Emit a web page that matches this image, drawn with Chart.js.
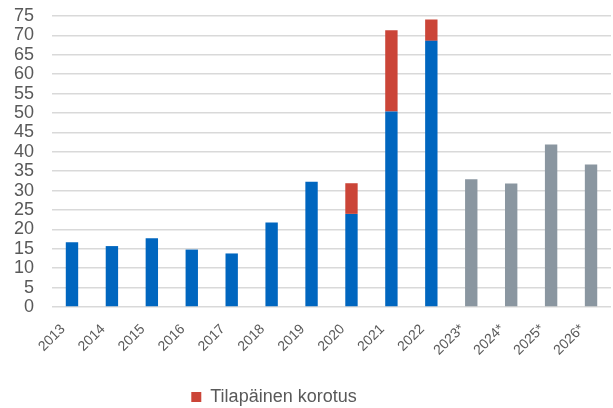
<!DOCTYPE html>
<html>
<head>
<meta charset="utf-8">
<script src="https://cdn.jsdelivr.net/npm/chart.js@4/dist/chart.umd.min.js"></script>
<style>
  html, body { margin: 0; padding: 0; background: #fff; }
  #wrap { width: 613px; height: 408px; }
</style>
</head>
<body>
<div id="wrap"><canvas id="chart"></canvas></div>
<script>
// years, * = forecast
const years = ['2013', '2014', '2015', '2016', '2017', '2018', '2019', '2020', '2021', '2022', '2023*', '2024*', '2025*', '2026*'];
const baseValues = [16.7, 15.7, 17.7, 14.8, 13.8, 21.8, 32.3, 24.0, 50.4, 68.6, 32.9, 31.8, 41.9, 36.7];
const tempRaise = [0, 0, 0, 0, 0, 0, 0, 7.9, 20.9, 5.5, 0, 0, 0, 0];
const tempLabel = 'Tilapäinen korotus';
const yTicks = [0, 5, 10, 15, 20, 25, 30, 35, 40, 45, 50, 55, 60, 65, 70, 75];

const blue = '#0066bf';
const grey = '#8a96a0';
const red = '#cb4538';
const textCol = '#595959';
const fontFam = 'Liberation Sans, Arial, sans-serif';

const baseColors = years.map(y => y.includes('*') ? grey : blue);

// legend sits a bit left of centre in the original
const legendShift = {
  id: 'legendShift',
  afterLayout(chart) {
    chart.legend.left -= 37;
    chart.legend.right -= 37;
  }
};

new Chart(document.getElementById('chart'), {
  type: 'bar',
  data: {
    labels: years,
    datasets: [
      { label: 'base', data: baseValues, backgroundColor: baseColors, barPercentage: 0.31, categoryPercentage: 1 },
      { label: tempLabel, data: tempRaise, backgroundColor: red, barPercentage: 0.31, categoryPercentage: 1 }
    ]
  },
  options: {
    responsive: true,
    maintainAspectRatio: false,
    animation: false,
    // legend block carries 10px of spare space below, hence the negative bottom
    layout: { padding: { left: 11, right: 2, top: 16, bottom: -8 } },
    plugins: {
      tooltip: { enabled: false },
      legend: {
        position: 'bottom',
        labels: {
          filter: item => item.text === tempLabel,
          boxWidth: 10, boxHeight: 10,
          color: textCol,
          font: { family: fontFam, size: 18, lineHeight: 1 },
          padding: 0
        }
      }
    },
    scales: {
      x: {
        stacked: true,
        grid: { display: false },
        border: { display: false },
        afterFit: axis => { axis.height = 81; },
        ticks: {
          color: textCol,
          maxRotation: 45, minRotation: 45,
          padding: 6,
          labelOffset: -9,
          font: { family: fontFam, size: 14 }
        }
      },
      y: {
        stacked: true,
        min: 0, max: 75,
        afterBuildTicks: axis => { axis.ticks = yTicks.map(v => ({ value: v })); },
        grid: { color: '#d9d9d9', lineWidth: 1.5, drawTicks: true, tickLength: 15, tickColor: 'rgba(0,0,0,0)' },
        border: { display: false },
        ticks: {
          color: textCol,
          autoSkip: false,
          padding: 3,
          font: { family: fontFam, size: 18 }
        }
      }
    }
  },
  plugins: [legendShift]
});
</script>
</body>
</html>
